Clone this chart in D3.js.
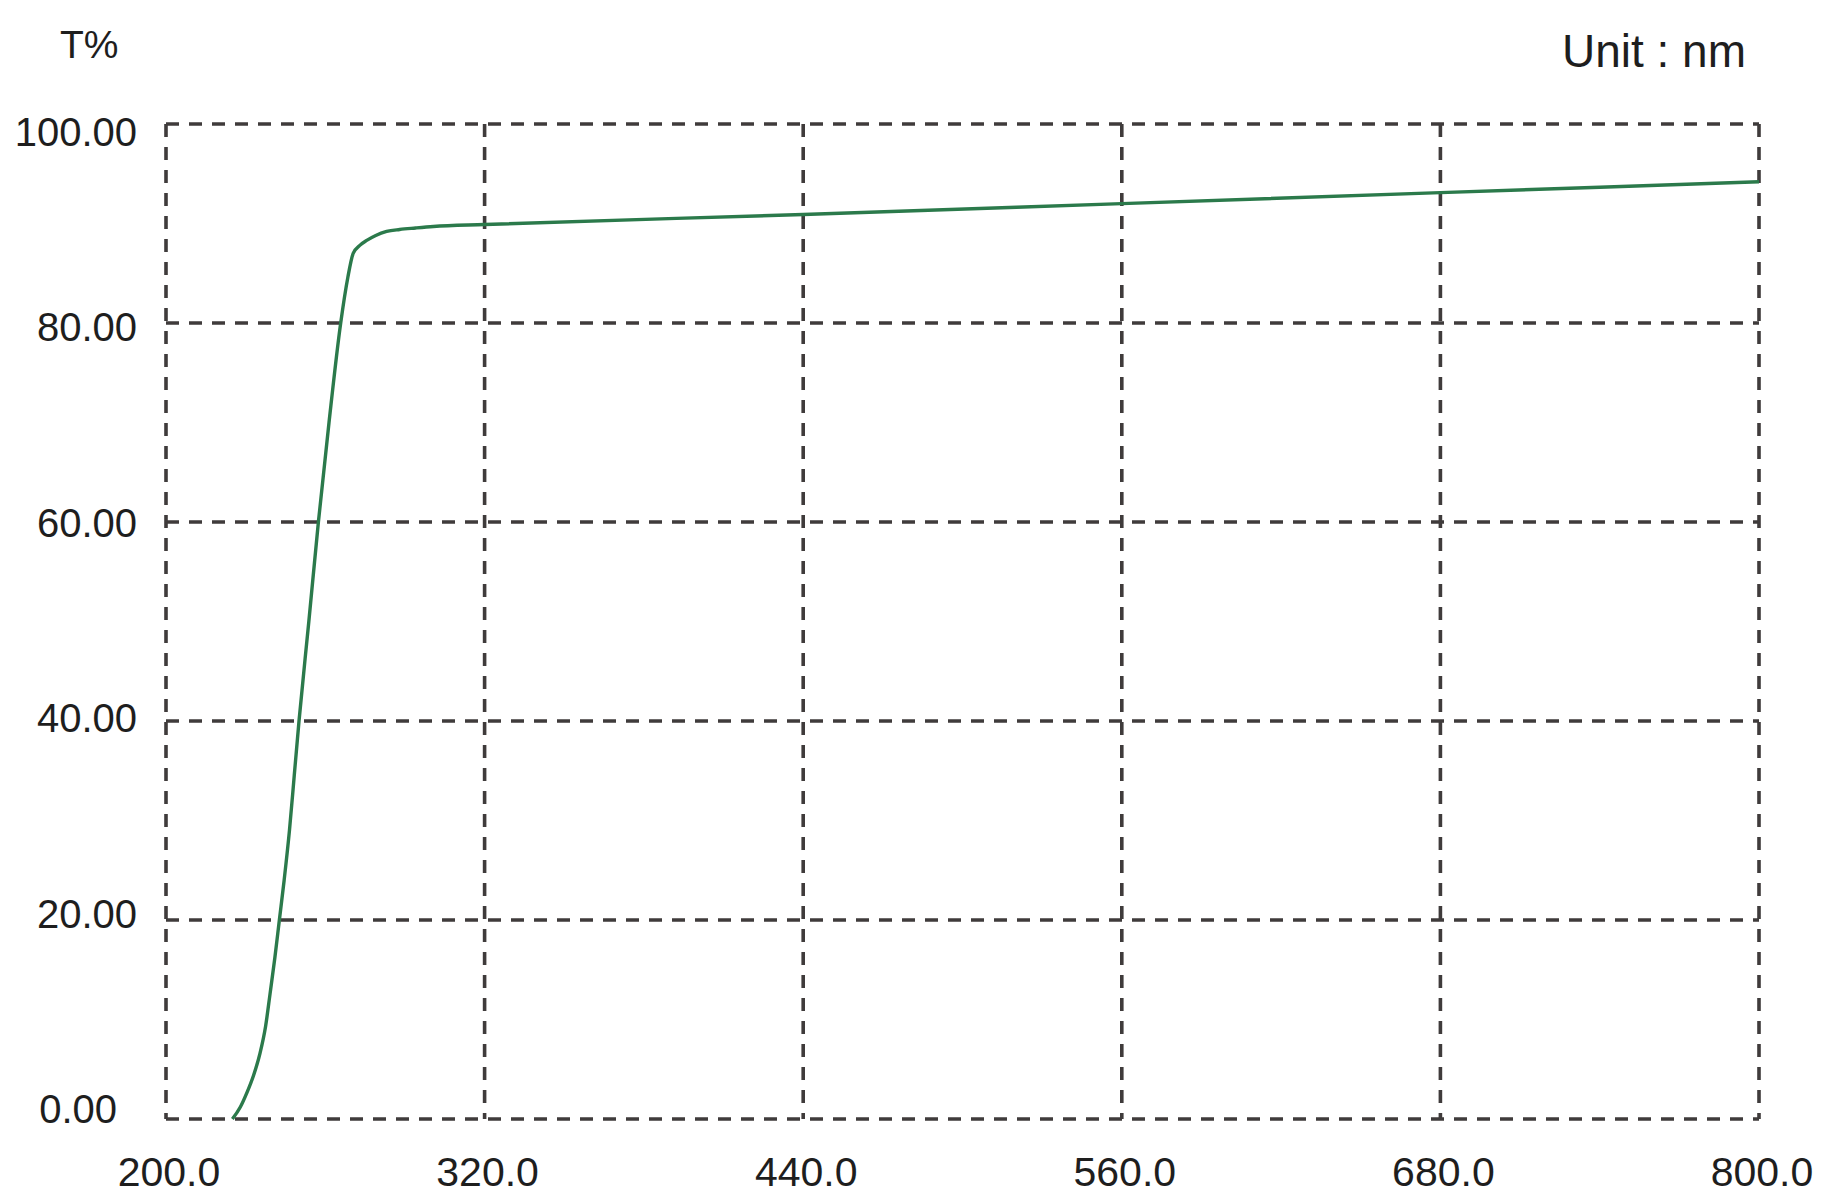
<!DOCTYPE html>
<html>
<head>
<meta charset="utf-8">
<script src="https://cdn.jsdelivr.net/npm/d3@7"></script>
<style>
    body { margin: 0; background: #fff; }
    text { font-family: "Liberation Sans", Arial, sans-serif; fill: #1e1e1e; }
</style>
</head>
<body>
<div id="chart"></div>
<script>
// wavelength (nm) and transmittance (%)
var wavelength = [225, 228, 230.4, 233, 235.4, 237.5, 239.2, 241, 242.7, 244.5, 246.5, 248.3, 250.1,
                  253.8, 257.4, 261.4, 265.8, 268.5, 270.5, 273, 275.6, 279, 283.1, 288, 294, 300.7,
                  320, 440, 560, 680, 800];
var transmittance = [0, 1.2, 2.6, 4.4, 6.6, 9.3, 12.6, 16.2, 20, 24, 29, 34.5, 40,
                     50, 60, 70, 80, 84.6, 87.0, 87.8, 88.3, 88.8, 89.2, 89.4, 89.55, 89.7,
                     89.9, 90.9, 92.0, 93.1, 94.2];

var xTicks = [200, 320, 440, 560, 680, 800];
var yTicks = [0, 20, 40, 60, 80, 100];

var width = 1822,
    height = 1197,
    margin = { top: 124, right: 63, bottom: 78, left: 166 };

var svg = d3.select('#chart')
    .append('svg')
    .attr('width', width)
    .attr('height', height);

var x = d3.scaleLinear()
    .domain([200, 800])
    .range([margin.left, width - margin.right]);

var y = d3.scaleLinear()
    .domain([0, 100])
    .range([height - margin.bottom, margin.top]);

// y labels sit slightly inside the grid span in the original
var yLabel = d3.scaleLinear()
    .domain([0, 100])
    .range([height - margin.bottom - 10, margin.top + 8]);

// dashed grid (also forms the frame)
var grid = svg.append('g')
    .attr('class', 'grid')
    .attr('stroke', '#3f3b3b')
    .attr('stroke-width', 3.6)
    .attr('stroke-dasharray', '13,10')
    .attr('fill', 'none');

grid.selectAll('line.h')
    .data(yTicks)
    .enter().append('line')
    .attr('class', 'h')
    .attr('x1', x(200))
    .attr('x2', x(800))
    .attr('y1', function(d) { return y(d); })
    .attr('y2', function(d) { return y(d); });

grid.selectAll('line.v')
    .data(xTicks)
    .enter().append('line')
    .attr('class', 'v')
    .attr('y1', y(100))
    .attr('y2', y(0))
    .attr('x1', function(d) { return x(d); })
    .attr('x2', function(d) { return x(d); });

// tick labels
svg.append('g').selectAll('text')
    .data(yTicks)
    .enter().append('text')
    .attr('x', function(d) { return d === 0 ? 117 : 137; })
    .attr('y', function(d) { return yLabel(d); })
    .attr('dy', '0.35em')
    .style('text-anchor', 'end')
    .style('font-size', '40px')
    .text(function(d) { return d3.format('.2f')(d); });

svg.append('g').selectAll('text')
    .data(xTicks)
    .enter().append('text')
    .attr('x', function(d) { return x(d) + 3; })
    .attr('y', 1186)
    .style('text-anchor', 'middle')
    .style('font-size', '41px')
    .text(function(d) { return d3.format('.1f')(d); });

// corner labels
svg.append('text')
    .attr('x', 60)
    .attr('y', 58)
    .style('font-size', '39px')
    .text('T%');

svg.append('text')
    .attr('x', 1746)
    .attr('y', 67)
    .style('text-anchor', 'end')
    .style('font-size', '46px')
    .text('Unit : nm');

// transmittance curve
var line = d3.line()
    .x(function(d, i) { return x(wavelength[i]); })
    .y(function(d) { return y(d); })
    .curve(d3.curveMonotoneX);

svg.append('path')
    .datum(transmittance)
    .attr('fill', 'none')
    .attr('stroke', '#2b7a4b')
    .attr('stroke-width', 3.4)
    .attr('d', line);
</script>
</body>
</html>
